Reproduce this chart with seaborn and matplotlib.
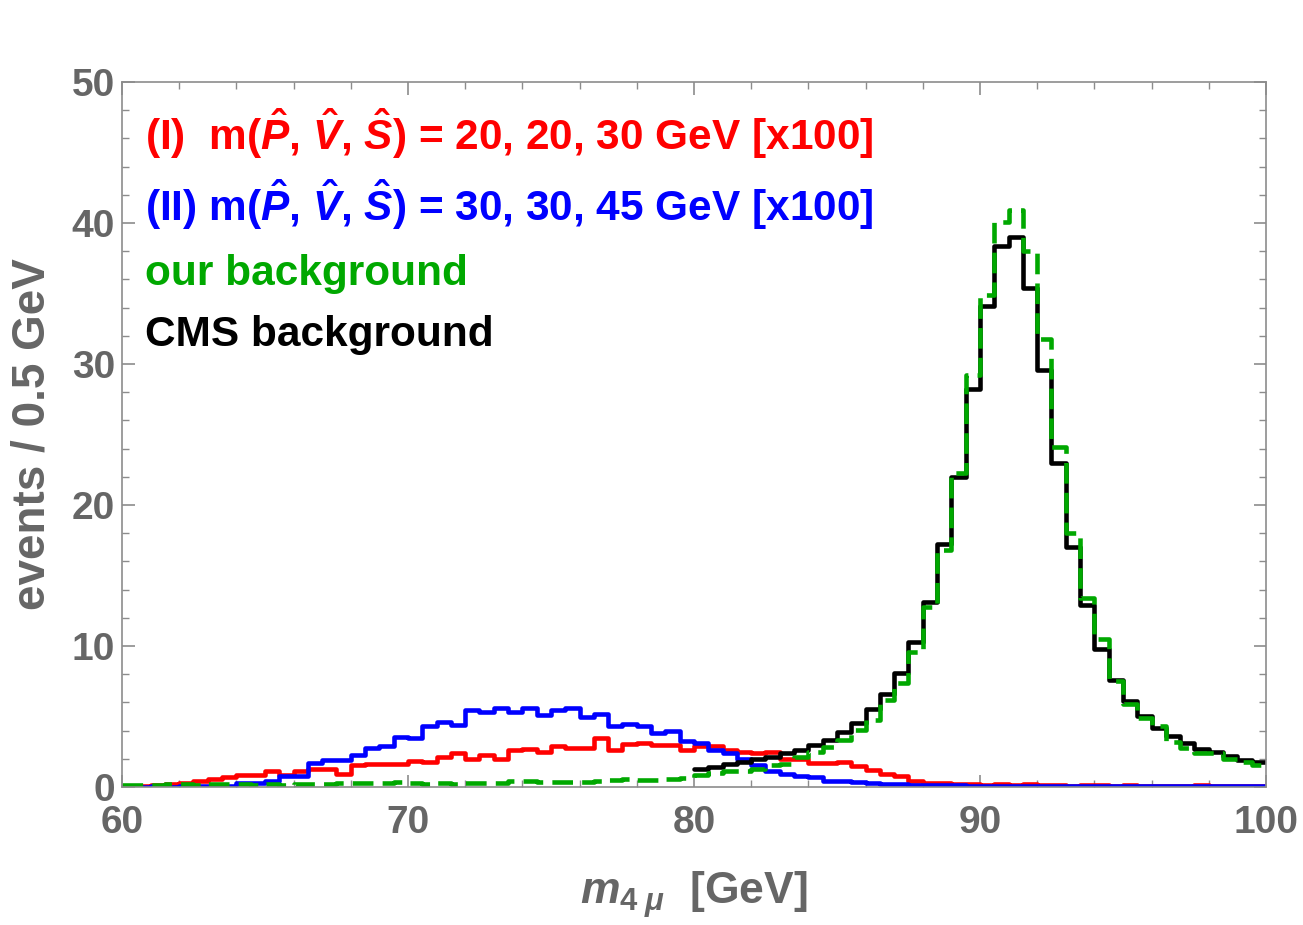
import numpy as np
import pandas as pd
import matplotlib
matplotlib.use("Agg")
import matplotlib.pyplot as plt
from matplotlib.ticker import MultipleLocator
import seaborn as sns

# 0.5 GeV bins between 60 and 100 GeV
m_lo, m_hi, bin_w = 60.0, 100.0, 0.5
cms_lo = 80.0

# (I) m(P,V,S) = 20,20,30 GeV  [x100]
signal_I = [0.1, 0.1, 0.15, 0.2, 0.3, 0.4, 0.55, 0.7, 0.85, 0.85,
            1.1, 0.85, 1.1, 1.3, 1.3, 0.95, 1.55, 1.65, 1.65, 1.6,
            1.85, 1.75, 2.1, 2.4, 1.95, 2.25, 1.95, 2.65, 2.7, 2.45,
            2.9, 2.75, 2.75, 3.5, 2.6, 3.05, 3.15, 2.95, 3.0, 2.6,
            2.9, 2.9, 2.6, 2.5, 2.4, 2.5, 1.95, 1.95, 1.72, 1.67,
            1.8, 1.5, 1.2, 0.92, 0.78, 0.4, 0.3, 0.25, 0.2, 0.2,
            0.15, 0.18, 0.15, 0.2, 0.15, 0.15, 0.1, 0.12, 0.15, 0.1,
            0.12, 0.1, 0.1, 0.08, 0.1, 0.12, 0.08, 0.1, 0.1, 0.08]

# (II) m(P,V,S) = 30,30,45 GeV  [x100]
signal_II = [0.03, 0.03, 0.05, 0.03, 0.08, 0.05, 0.08, 0.1, 0.3, 0.3,
             0.45, 0.75, 0.8, 1.7, 1.9, 1.9, 2.3, 2.75, 2.9, 3.55,
             3.5, 4.35, 4.6, 4.4, 5.45, 5.3, 5.6, 5.3, 5.6, 5.1,
             5.45, 5.6, 4.95, 5.2, 4.3, 4.5, 4.3, 3.8, 4.0, 3.25,
             3.1, 2.65, 2.4, 1.95, 1.55, 1.1, 0.95, 0.75, 0.7, 0.45,
             0.42, 0.32, 0.3, 0.22, 0.2, 0.15, 0.15, 0.12, 0.12, 0.1,
             0.1, 0.1, 0.08, 0.1, 0.08, 0.1, 0.08, 0.08, 0.1, 0.08,
             0.08, 0.1, 0.08, 0.1, 0.08, 0.08, 0.1, 0.08, 0.08, 0.08]

our_bkg = [0.15, 0.15, 0.15, 0.18, 0.2, 0.15, 0.2, 0.18, 0.2, 0.15,
           0.2, 0.15, 0.2, 0.18, 0.2, 0.25, 0.3, 0.28, 0.3, 0.32,
           0.25, 0.22, 0.25, 0.22, 0.3, 0.28, 0.3, 0.4, 0.42, 0.35,
           0.35, 0.38, 0.38, 0.42, 0.5, 0.55, 0.52, 0.5, 0.55, 0.65,
           0.85, 1.0, 1.15, 1.1, 1.3, 1.55, 1.6, 2.1, 2.45, 2.85,
           3.3, 4.05, 4.75, 6.2, 7.35, 9.6, 12.8, 16.8, 22.3, 29.2,
           34.9, 40.1, 40.9, 38.0, 31.8, 24.1, 18.0, 13.4, 10.5, 7.5,
           5.9, 4.9, 4.3, 3.2, 2.75, 2.4, 2.4, 2.0, 1.8, 1.55]

# CMS background, 80-100 GeV only
cms_bkg = [1.28, 1.44, 1.6, 1.8, 1.96, 2.15, 2.4, 2.6, 2.98, 3.3,
           3.93, 4.56, 5.5, 6.6, 8.1, 10.3, 13.1, 17.2, 22.0, 28.2,
           34.1, 38.4, 39.0, 35.4, 29.6, 23.0, 17.0, 12.9, 9.8, 7.6,
           6.1, 5.0, 4.2, 3.6, 3.1, 2.7, 2.45, 2.2, 1.9, 1.8]

legend_lines = [r"(I)  m($\hat{P}$, $\hat{V}$, $\hat{S}$) = 20, 20, 30 GeV [x100]",
                r"(II) m($\hat{P}$, $\hat{V}$, $\hat{S}$) = 30, 30, 45 GeV [x100]",
                "our background",
                "CMS background"]

RED, BLUE, GREEN, BLACK = "#ff0000", "#0000ff", "#00a800", "#000000"
GRAY = "#666666"

sns.set_theme(style="ticks")
plt.rcParams["font.family"] = ["Liberation Sans", "DejaVu Sans"]
plt.rcParams["mathtext.fontset"] = "custom"
plt.rcParams["mathtext.rm"] = "Liberation Sans:bold"
plt.rcParams["mathtext.it"] = "Liberation Sans:italic:bold"
plt.rcParams["mathtext.bf"] = "Liberation Sans:bold"

centers = np.arange(m_lo, m_hi, bin_w) + bin_w / 2
cms_centers = np.arange(cms_lo, m_hi, bin_w) + bin_w / 2
full = pd.DataFrame({"m": centers, "sig1": signal_I, "sig2": signal_II, "ours": our_bkg})
cms = pd.DataFrame({"m": cms_centers, "cms": cms_bkg})

fig = plt.figure(figsize=(13.03, 9.25), dpi=100)
ax = fig.add_axes([0.0936, 0.1492, 0.878, 0.7622])

lw = 3.3
hist_kw = dict(x="m", element="step", fill=False, linewidth=lw, binwidth=bin_w, ax=ax)
sns.histplot(data=full, weights="sig1", binrange=(m_lo, m_hi), color=RED, **hist_kw)
sns.histplot(data=full, weights="sig2", binrange=(m_lo, m_hi), color=BLUE, **hist_kw)
sns.histplot(data=cms, weights="cms", binrange=(cms_lo, m_hi), color=BLACK, **hist_kw)
sns.histplot(data=full, weights="ours", binrange=(m_lo, m_hi), color=GREEN,
             linestyle=(0, (4.5, 2.0)), **hist_kw)

ax.set_xlim(m_lo, m_hi)
ax.set_ylim(0, 50)
ax.xaxis.set_major_locator(MultipleLocator(10))
ax.xaxis.set_minor_locator(MultipleLocator(2))
ax.yaxis.set_major_locator(MultipleLocator(10))
ax.yaxis.set_minor_locator(MultipleLocator(2))
ax.tick_params(which="both", direction="in", top=True, right=True, color="#8c8c8c")
ax.tick_params(which="major", length=9, width=1.2)
ax.tick_params(which="minor", length=5, width=1.0)
ax.tick_params(axis="x", which="major", pad=13, labelsize=28, labelcolor=GRAY)
ax.tick_params(axis="y", which="major", pad=5, labelsize=28, labelcolor=GRAY)
for lab in ax.get_xticklabels() + ax.get_yticklabels():
    lab.set_fontweight("bold")
for sp in ax.spines.values():
    sp.set_color("#8c8c8c")
    sp.set_linewidth(1.2)

ax.set_xlabel(r"$m_{4\;\mu}$  [GeV]", fontsize=32, fontweight="bold", color=GRAY, labelpad=20)
ax.set_ylabel("events / 0.5 GeV", fontsize=33, fontweight="bold", color=GRAY, labelpad=12)

text_y = [0.9035, 0.803, 0.712, 0.6255]
for label, col, ty in zip(legend_lines, [RED, BLUE, GREEN, BLACK], text_y):
    ax.text(0.02, ty, label, transform=ax.transAxes, color=col, fontsize=30.5,
            fontweight="bold", va="baseline", ha="left")

fig.savefig("out.png", dpi=100)
